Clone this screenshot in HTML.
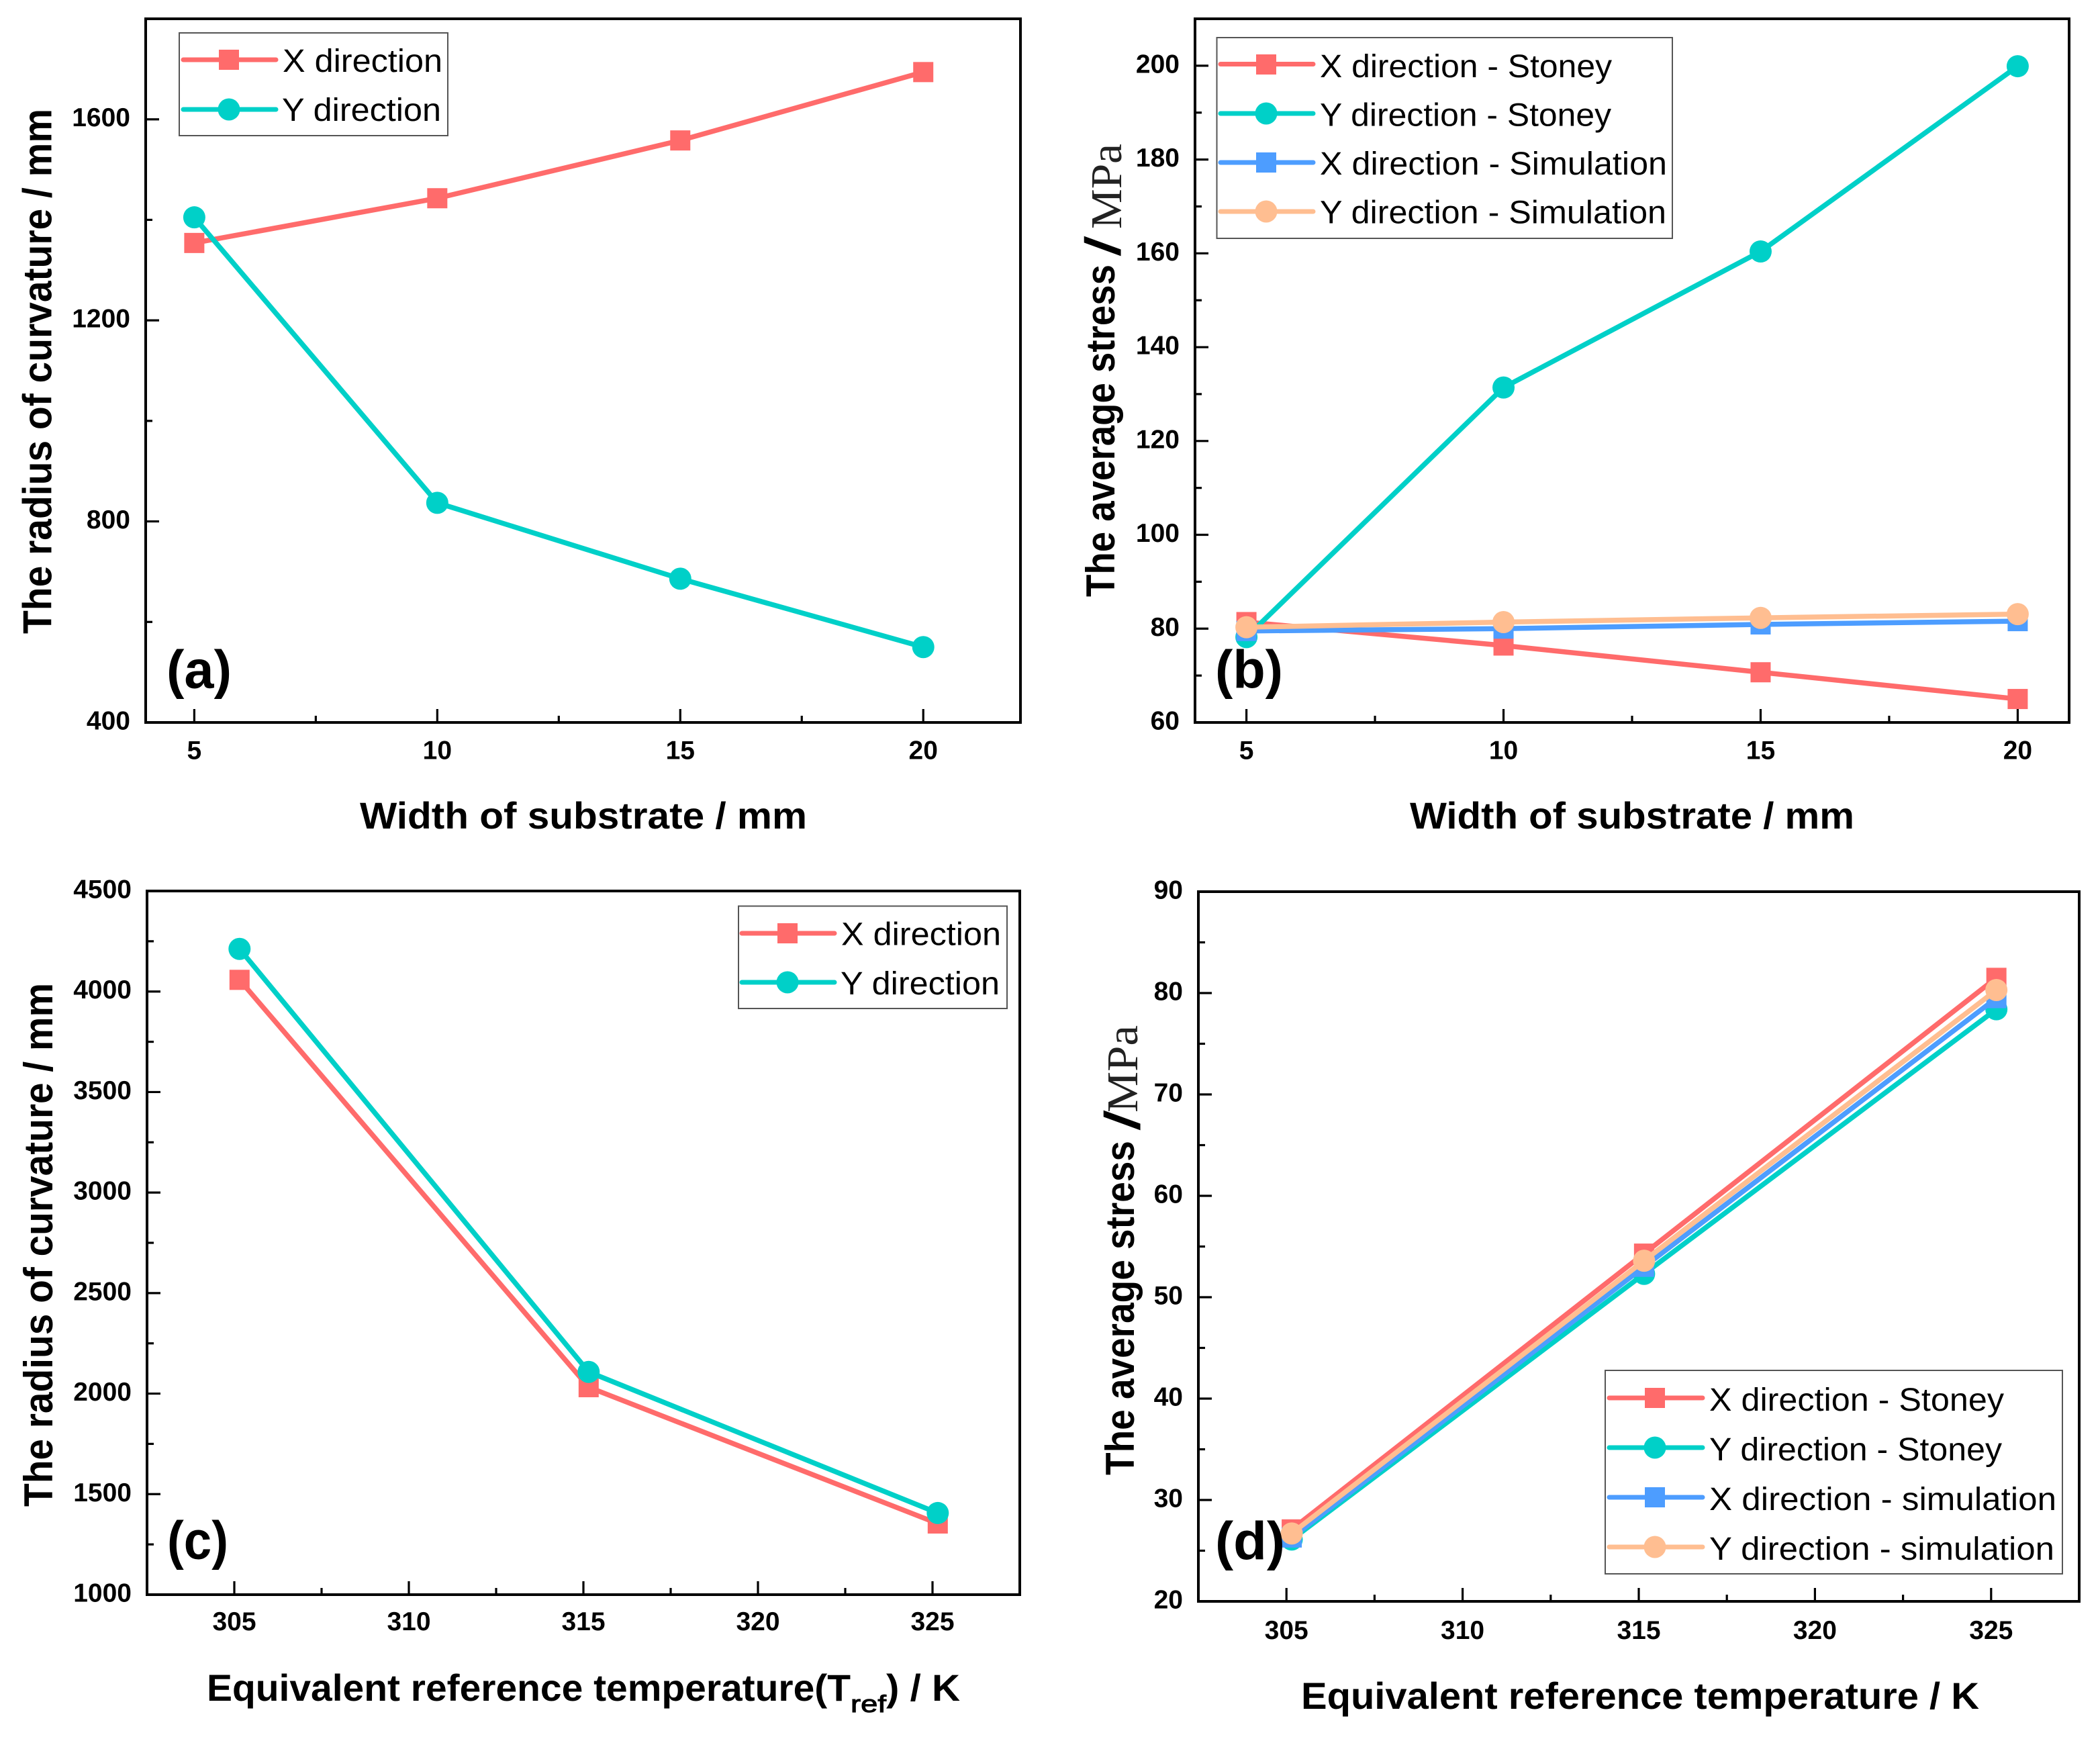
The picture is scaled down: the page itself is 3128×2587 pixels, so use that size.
<!DOCTYPE html>
<html lang="en">
<head>
<meta charset="utf-8">
<title>Curvature and stress charts</title>
<style>
html,body{margin:0;padding:0;background:#fff;}
svg{display:block;}
text{font-family:"Liberation Sans",sans-serif;fill:#000;}
.t{font-weight:700;font-size:56px;}
.yt{font-weight:700;font-size:60px;}
.sl{font-weight:400;font-size:72px;stroke:#000;stroke-width:1.6;}
.p{font-weight:700;font-size:80px;}
.l{font-size:48px;}
.m{font-family:"Liberation Serif",serif;font-size:66px;fill:#222;}
.b{fill:#fff;stroke:#555;stroke-width:2;}
.sw{fill:none;stroke-width:7;stroke-linecap:round;}
</style>
</head>
<body>
<svg id="figure" xmlns="http://www.w3.org/2000/svg" width="3128" height="2587" viewBox="0 0 3128 2587">
<rect width="3128" height="2587" fill="#fff"/>
<g id="plots"></g>

<!-- axis titles -->
<text class="t" x="536" y="1234" textLength="666" lengthAdjust="spacingAndGlyphs">Width of substrate / mm</text>
<text class="yt" transform="translate(76.5,944) rotate(-90)" textLength="782" lengthAdjust="spacingAndGlyphs">The radius of curvature / mm</text>
<text class="t" x="2100" y="1234" textLength="662" lengthAdjust="spacingAndGlyphs">Width of substrate / mm</text>
<text class="yt" transform="translate(1660,889) rotate(-90)" textLength="495" lengthAdjust="spacingAndGlyphs">The average stress</text>
<text class="sl" transform="translate(1668,380) rotate(-90)" textLength="27" lengthAdjust="spacingAndGlyphs">/</text>
<text class="m" transform="translate(1670,341) rotate(-90)" textLength="127" lengthAdjust="spacingAndGlyphs">MPa</text>
<text class="t" x="308" y="2533" textLength="959" lengthAdjust="spacingAndGlyphs">Equivalent reference temperature(T</text>
<text class="t" style="font-size:36px;font-weight:400;stroke:#000;stroke-width:1" x="1267" y="2550" textLength="53" lengthAdjust="spacingAndGlyphs">ref</text>
<text class="t" x="1320" y="2533" textLength="110" lengthAdjust="spacingAndGlyphs">) / K</text>
<text class="yt" transform="translate(78,2244) rotate(-90)" textLength="780" lengthAdjust="spacingAndGlyphs">The radius of curvature / mm</text>
<text class="t" x="1938" y="2545" textLength="1010" lengthAdjust="spacingAndGlyphs">Equivalent reference temperature / K</text>
<text class="yt" transform="translate(1689,2197) rotate(-90)" textLength="498" lengthAdjust="spacingAndGlyphs">The average stress</text>
<text class="sl" transform="translate(1697,1682) rotate(-90)" textLength="27" lengthAdjust="spacingAndGlyphs">/</text>
<text class="m" transform="translate(1694,1657) rotate(-90)" textLength="130" lengthAdjust="spacingAndGlyphs">MPa</text>

<!-- panel letters -->
<text class="p" x="248" y="1024.5" textLength="97" lengthAdjust="spacingAndGlyphs">(a)</text>
<text class="p" x="1810" y="1024.5" textLength="101" lengthAdjust="spacingAndGlyphs">(b)</text>
<text class="p" x="249" y="2321.5" textLength="91" lengthAdjust="spacingAndGlyphs">(c)</text>
<text class="p" x="1810" y="2322.5" textLength="104" lengthAdjust="spacingAndGlyphs">(d)</text>

<!-- legend a -->
<g>
<rect class="b" x="267" y="49" width="400" height="153"/>
<g>
<line class="sw" x1="273" x2="411" y1="89" y2="89" stroke="#FF6B6B"/>
<rect x="326" y="74" width="30" height="30" fill="#FF6B6B"/>
<text class="l" x="421" y="107" textLength="238" lengthAdjust="spacingAndGlyphs">X direction</text>
</g>
<g>
<line class="sw" x1="273" x2="411" y1="163" y2="163" stroke="#00D0C8"/>
<circle cx="341" cy="163" r="16.5" fill="#00D0C8"/>
<text class="l" x="420" y="180" textLength="237" lengthAdjust="spacingAndGlyphs">Y direction</text>
</g>
</g>

<!-- legend b -->
<g>
<rect class="b" x="1812.5" y="56" width="678.5" height="299"/>
<g>
<line class="sw" x1="1818" x2="1956" y1="95.5" y2="95.5" stroke="#FF6B6B"/>
<rect x="1871" y="81" width="30" height="30" fill="#FF6B6B"/>
<text class="l" x="1966" y="115" textLength="435" lengthAdjust="spacingAndGlyphs">X direction - Stoney</text>
</g>
<g>
<line class="sw" x1="1818" x2="1956" y1="169" y2="169" stroke="#00D0C8"/>
<circle cx="1886" cy="169" r="16.5" fill="#00D0C8"/>
<text class="l" x="1966" y="187.5" textLength="434" lengthAdjust="spacingAndGlyphs">Y direction - Stoney</text>
</g>
<g>
<line class="sw" x1="1818" x2="1956" y1="242" y2="242" stroke="#4D9DFF"/>
<rect x="1871" y="227" width="30" height="30" fill="#4D9DFF"/>
<text class="l" x="1966" y="260" textLength="517" lengthAdjust="spacingAndGlyphs">X direction - Simulation</text>
</g>
<g>
<line class="sw" x1="1818" x2="1956" y1="315" y2="315" stroke="#FFBE91"/>
<circle cx="1886" cy="315" r="16.5" fill="#FFBE91"/>
<text class="l" x="1966" y="332.5" textLength="516" lengthAdjust="spacingAndGlyphs">Y direction - Simulation</text>
</g>
</g>

<!-- legend c -->
<g>
<rect class="b" x="1100" y="1349.5" width="400" height="152.5"/>
<g>
<line class="sw" x1="1105" x2="1243" y1="1390" y2="1390" stroke="#FF6B6B"/>
<rect x="1158" y="1375" width="30" height="30" fill="#FF6B6B"/>
<text class="l" x="1253" y="1407.5" textLength="238" lengthAdjust="spacingAndGlyphs">X direction</text>
</g>
<g>
<line class="sw" x1="1105" x2="1243" y1="1463" y2="1463" stroke="#00D0C8"/>
<circle cx="1173" cy="1463" r="16.5" fill="#00D0C8"/>
<text class="l" x="1252" y="1481" textLength="237" lengthAdjust="spacingAndGlyphs">Y direction</text>
</g>
</g>

<!-- legend d -->
<g>
<rect class="b" x="2391" y="2041" width="681" height="303"/>
<g>
<line class="sw" x1="2397" x2="2536" y1="2082" y2="2082" stroke="#FF6B6B"/>
<rect x="2450" y="2067" width="30" height="30" fill="#FF6B6B"/>
<text class="l" x="2546" y="2101" textLength="439" lengthAdjust="spacingAndGlyphs">X direction - Stoney</text>
</g>
<g>
<line class="sw" x1="2397" x2="2536" y1="2156" y2="2156" stroke="#00D0C8"/>
<circle cx="2465" cy="2156" r="16.5" fill="#00D0C8"/>
<text class="l" x="2546" y="2175" textLength="436" lengthAdjust="spacingAndGlyphs">Y direction - Stoney</text>
</g>
<g>
<line class="sw" x1="2397" x2="2536" y1="2230" y2="2230" stroke="#4D9DFF"/>
<rect x="2450" y="2215" width="30" height="30" fill="#4D9DFF"/>
<text class="l" x="2546" y="2249" textLength="517" lengthAdjust="spacingAndGlyphs">X direction - simulation</text>
</g>
<g>
<line class="sw" x1="2397" x2="2536" y1="2304" y2="2304" stroke="#FFBE91"/>
<circle cx="2465" cy="2304" r="16.5" fill="#FFBE91"/>
<text class="l" x="2546" y="2323" textLength="514" lengthAdjust="spacingAndGlyphs">Y direction - simulation</text>
</g>
</g>
</svg>

<script>
// ---- chart data ----
const widthCategories = [5, 10, 15, 20];
const tempCategories = [305.15, 315.15, 325.15];

const aXDirection = [1354, 1443, 1558, 1694];
const aYDirection = [1405, 837, 686, 550];

const bXStoney = [81.4, 76.4, 70.7, 65];
const bYStoney = [78.2, 131.4, 160.4, 199.9];
const bXSimulation = [79.5, 80, 80.9, 81.6];
const bYSimulation = [80.3, 81.4, 82.3, 83.1];

const cXDirection = [4058, 2032, 1354];
const cYDirection = [4212, 2108, 1406];

const dXStoney = [27.1, 54.3, 81.5];
const dYStoney = [26.1, 52.3, 78.4];
const dXSimulation = [26.3, 53, 79.5];
const dYSimulation = [26.7, 53.6, 80.3];

const widthTicks = [5, 10, 15, 20];
const widthMinorTicks = [7.5, 12.5, 17.5];
const tempTicks = [305, 310, 315, 320, 325];
const tempMinorTicks = [307.5, 312.5, 317.5, 322.5];

const aYTicks = [400, 800, 1200, 1600];
const aYMinorTicks = [600, 1000, 1400];
const bYTicks = [60, 80, 100, 120, 140, 160, 180, 200];
const bYMinorTicks = [70, 90, 110, 130, 150, 170, 190];
const cYTicks = [1000, 1500, 2000, 2500, 3000, 3500, 4000, 4500];
const cYMinorTicks = [1250, 1750, 2250, 2750, 3250, 3750, 4250];
const dYTicks = [20, 30, 40, 50, 60, 70, 80, 90];
const dYMinorTicks = [25, 35, 45, 55, 65, 75, 85];

// ---- panel layout ----
const NS = 'http://www.w3.org/2000/svg';
const RED = '#FF6B6B', TEAL = '#00D0C8', BLUE = '#4D9DFF', PEACH = '#FFBE91';

const panels = [
  {id:'a', L:217, R:1520, T:28, B:1076, x0:4, x1:22, y0:400, y1:1800, labelY:1130.5,
   xCats:widthCategories, xT:widthTicks, xM:widthMinorTicks, yT:aYTicks, yM:aYMinorTicks,
   series:[
     {key:'x-direction', vals:aXDirection, color:RED, shape:'square'},
     {key:'y-direction', vals:aYDirection, color:TEAL, shape:'circle'}]},
  {id:'b', L:1780, R:3082, T:28, B:1076, x0:4, x1:21, y0:60, y1:210, labelY:1130.5,
   xCats:widthCategories, xT:widthTicks, xM:widthMinorTicks, yT:bYTicks, yM:bYMinorTicks,
   series:[
     {key:'x-stoney', vals:bXStoney, color:RED, shape:'square'},
     {key:'y-stoney', vals:bYStoney, color:TEAL, shape:'circle'},
     {key:'x-simulation', vals:bXSimulation, color:BLUE, shape:'square'},
     {key:'y-simulation', vals:bYSimulation, color:PEACH, shape:'circle'}]},
  {id:'c', L:219, R:1519, T:1327, B:2375, x0:302.5, x1:327.5, y0:1000, y1:4500, labelY:2428,
   xCats:tempCategories, xT:tempTicks, xM:tempMinorTicks, yT:cYTicks, yM:cYMinorTicks,
   series:[
     {key:'x-direction', vals:cXDirection, color:RED, shape:'square'},
     {key:'y-direction', vals:cYDirection, color:TEAL, shape:'circle'}]},
  {id:'d', L:1785, R:3097, T:1328, B:2385, x0:302.5, x1:327.5, y0:20, y1:90, labelY:2441,
   xCats:tempCategories, xT:tempTicks, xM:tempMinorTicks, yT:dYTicks, yM:dYMinorTicks,
   series:[
     {key:'x-stoney', vals:dXStoney, color:RED, shape:'square'},
     {key:'y-stoney', vals:dYStoney, color:TEAL, shape:'circle'},
     {key:'x-simulation', vals:dXSimulation, color:BLUE, shape:'square'},
     {key:'y-simulation', vals:dYSimulation, color:PEACH, shape:'circle'}]}
];

function svgEl(tag, parent, props) {
  const el = document.createElementNS(NS, tag);
  for (const k in props) el.setAttribute(k, props[k]);
  parent.appendChild(el);
  return el;
}

const root = document.getElementById('plots');

panels.forEach(function (p) {
  const sx = function (v) { return p.L + (v - p.x0) * (p.R - p.L) / (p.x1 - p.x0); };
  const sy = function (v) { return p.B - (v - p.y0) * (p.B - p.T) / (p.y1 - p.y0); };

  const g = svgEl('g', root, {});
  
  

  const frame = svgEl('rect', g, {x:p.L, y:p.T, width:p.R - p.L, height:p.B - p.T, fill:'#fff', stroke:'#000', 'stroke-width':4});
  
  

  p.xT.forEach(function (v) {
    const t = svgEl('line', g, {x1:sx(v), x2:sx(v), y1:p.B, y2:p.B - 20, stroke:'#000', 'stroke-width':3.2});
    
    
    const lab = svgEl('text', g, {x:sx(v), y:p.labelY, 'text-anchor':'middle', 'font-size':39, 'font-weight':700});
    lab.textContent = String(v);
    
    
  });
  p.xM.forEach(function (v) {
    const t = svgEl('line', g, {x1:sx(v), x2:sx(v), y1:p.B, y2:p.B - 10, stroke:'#000', 'stroke-width':3.2});
    
    
  });
  p.yT.forEach(function (v) {
    const t = svgEl('line', g, {x1:p.L, x2:p.L + 20, y1:sy(v), y2:sy(v), stroke:'#000', 'stroke-width':3.2});
    
    
    const lab = svgEl('text', g, {x:p.L - 23, y:sy(v) + 10.5, 'text-anchor':'end', 'font-size':39, 'font-weight':700});
    lab.textContent = String(v);
    
    
  });
  p.yM.forEach(function (v) {
    const t = svgEl('line', g, {x1:p.L, x2:p.L + 10, y1:sy(v), y2:sy(v), stroke:'#000', 'stroke-width':3.2});
    
    
  });

  p.series.forEach(function (s) {
    const sg = svgEl('g', g, {});
    
    
    const pts = s.vals.map(function (v, i) { return sx(p.xCats[i]) + ',' + sy(v); }).join(' ');
    const line = svgEl('polyline', sg, {points:pts, fill:'none', stroke:s.color, 'stroke-width':7.5, 'stroke-linejoin':'round'});
    
    
    s.vals.forEach(function (v, i) {
      const cx = sx(p.xCats[i]), cy = sy(v);
      let m;
      if (s.shape === 'square') {
        m = svgEl('rect', sg, {x:cx - 15, y:cy - 15, width:30, height:30, fill:s.color});
      } else {
        m = svgEl('circle', sg, {cx:cx, cy:cy, r:16.5, fill:s.color});
      }
      
      
    });
  });
});
</script>
</body>
</html>
